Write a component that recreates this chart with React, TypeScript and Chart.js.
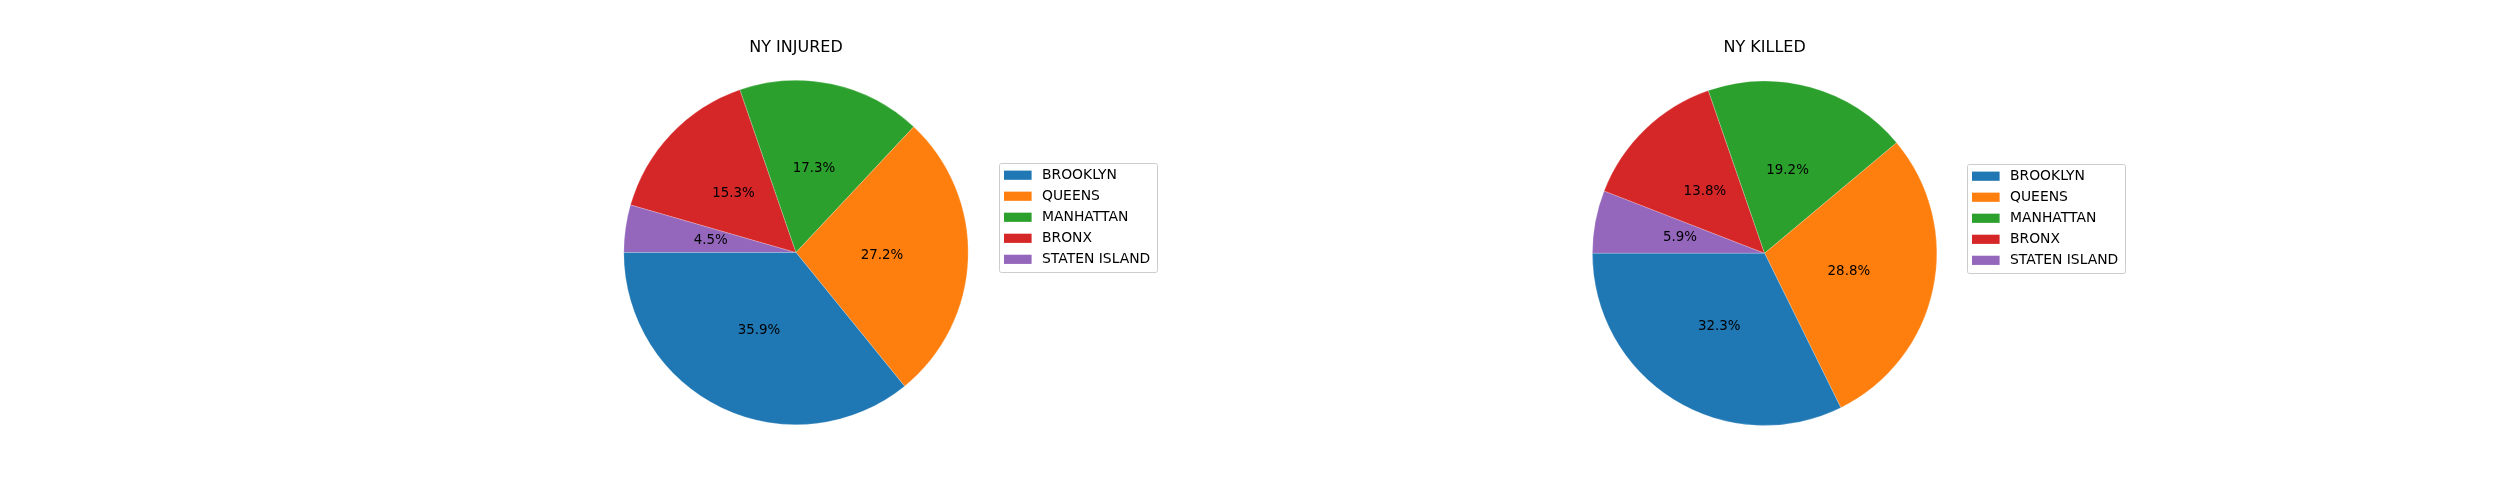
import React, { useEffect, useRef } from "react";
import { Chart, registerables } from "chart.js";

Chart.register(...registerables);

// ---- data ----
const categories = ["BROOKLYN", "QUEENS", "MANHATTAN", "BRONX", "STATEN ISLAND"];
const injuredShares = [35.86, 27.16, 17.26, 15.26, 4.46];
const killedShares = [32.3, 28.8, 19.2, 13.8, 5.9];
const sliceColors = ["#1f77b4", "#ff7f0e", "#2ca02c", "#d62728", "#9467bd"];
const chartTitles = ["NY INJURED", "NY KILLED"];

const FONT = "'DejaVu Sans', 'Liberation Sans', sans-serif";

const overlayPlugin = {
  id: "overlay",
  afterDraw(chart: any, _args: any, opts: any) {
    const ctx = chart.ctx as CanvasRenderingContext2D;
    const area = chart.chartArea;
    const meta = chart.getDatasetMeta(0);
    const values = chart.data.datasets[0].data as number[];
    const total = values.reduce((a, b) => a + b, 0);
    ctx.save();
    ctx.fillStyle = "#000";

    // title
    const cx = (area.left + area.right) / 2;
    ctx.font = `16px ${FONT}`;
    ctx.textAlign = "center";
    ctx.textBaseline = "alphabetic";
    ctx.fillText(opts.title, cx, area.top - 28.5);

    // percentage labels
    ctx.font = `13.4px ${FONT}`;
    ctx.textBaseline = "middle";
    meta.data.forEach((arc: any, i: number) => {
      const p = arc.getProps(["x", "y", "startAngle", "endAngle", "outerRadius"], true);
      const mid = (p.startAngle + p.endAngle) / 2;
      const r = p.outerRadius * 0.5;
      const txt = ((values[i] / total) * 100).toFixed(1) + "%";
      ctx.fillText(txt, p.x + Math.cos(mid) * r, p.y + Math.sin(mid) * r);
    });

    // legend
    const lx = Math.round(area.right + 30) + 0.5;
    const ly = Math.round(area.top + 83) + 0.5;
    const lw = 158;
    const lh = 109;
    ctx.beginPath();
    const rr = 2;
    ctx.moveTo(lx + rr, ly);
    ctx.lineTo(lx + lw - rr, ly);
    ctx.quadraticCurveTo(lx + lw, ly, lx + lw, ly + rr);
    ctx.lineTo(lx + lw, ly + lh - rr);
    ctx.quadraticCurveTo(lx + lw, ly + lh, lx + lw - rr, ly + lh);
    ctx.lineTo(lx + rr, ly + lh);
    ctx.quadraticCurveTo(lx, ly + lh, lx, ly + lh - rr);
    ctx.lineTo(lx, ly + rr);
    ctx.quadraticCurveTo(lx, ly, lx + rr, ly);
    ctx.closePath();
    ctx.fillStyle = "rgba(255,255,255,0.8)";
    ctx.fill();
    ctx.strokeStyle = "#cccccc";
    ctx.lineWidth = 1;
    ctx.stroke();

    const labels: string[] = opts.labels;
    const colors: string[] = opts.colors;
    ctx.font = `13.9px ${FONT}`;
    ctx.textAlign = "left";
    ctx.textBaseline = "middle";
    labels.forEach((lab, i) => {
      const cy = ly + 11.7 + 21.03 * i;
      ctx.fillStyle = colors[i];
      ctx.fillRect(lx + 4.5, cy - 4.6, 27.6, 9.2);
      ctx.fillStyle = "#000";
      ctx.fillText(lab, lx + 42.5, cy + 0.5);
    });
    ctx.restore();
  },
};

type PieProps = {
  values: number[];
  title: string;
  left: number;
  padLeft: number;
  padTop: number;
};

function PieChart({ values, title, left, padLeft, padTop }: PieProps) {
  const ref = useRef<HTMLCanvasElement | null>(null);
  useEffect(() => {
    if (!ref.current) return;
    const W = 1250;
    const H = 500;
    const D = 345;
    // matplotlib draws counter-clockwise from 9 o'clock; Chart.js draws clockwise,
    // so feed the slices reversed and start at 9 o'clock.
    const rev = [...values].reverse();
    const revColors = [...sliceColors].reverse();
    const revLabels = [...categories].reverse();
    const chart = new Chart(ref.current, {
      type: "pie",
      data: {
        labels: revLabels,
        datasets: [
          {
            data: rev,
            backgroundColor: revColors,
            borderColor: "rgba(255,255,255,0.35)",
            borderWidth: 0.6,
          },
        ],
      },
      options: {
        responsive: false,
        maintainAspectRatio: false,
        animation: false,
        devicePixelRatio: 1,
        rotation: -90,
        layout: {
          padding: {
            left: padLeft,
            top: padTop,
            right: W - padLeft - D,
            bottom: H - padTop - D,
          },
        },
        plugins: {
          legend: { display: false },
          title: { display: false },
          tooltip: { enabled: false },
          overlay: { title, labels: categories, colors: sliceColors },
        } as any,
      },
      plugins: [overlayPlugin],
    });
    return () => chart.destroy();
  }, [values, title, padLeft, padTop]);
  return (
    <canvas
      ref={ref}
      width={1250}
      height={500}
      style={{ position: "absolute", left, top: 0, width: 1250, height: 500 }}
    />
  );
}

export default function App() {
  return (
    <div
      style={{
        position: "absolute",
        left: 0,
        top: 0,
        width: 2500,
        height: 500,
        background: "#fff",
        overflow: "hidden",
      }}
    >
      <PieChart values={injuredShares} title={chartTitles[0]} left={0} padLeft={623.5} padTop={80} />
      <PieChart values={killedShares} title={chartTitles[1]} left={1250} padLeft={342.1} padTop={80.8} />
    </div>
  );
}
